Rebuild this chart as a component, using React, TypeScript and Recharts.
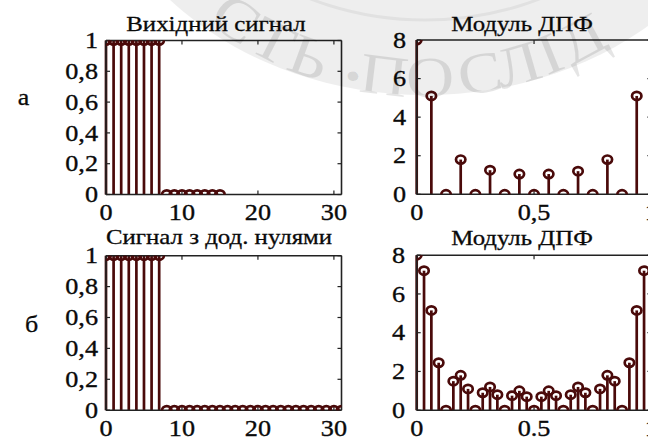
import React from 'react';
import { ComposedChart, Scatter, ErrorBar, XAxis, YAxis } from 'recharts';

// ---- data ----
const sampleIdx16 = [0, 1, 2, 3, 4, 5, 6, 7, 8, 9, 10, 11, 12, 13, 14, 15];
const signal16 = [1, 1, 1, 1, 1, 1, 1, 1, 0, 0, 0, 0, 0, 0, 0, 0];

const sampleIdx32 = [
  0, 1, 2, 3, 4, 5, 6, 7, 8, 9, 10, 11, 12, 13, 14, 15,
  16, 17, 18, 19, 20, 21, 22, 23, 24, 25, 26, 27, 28, 29, 30, 31,
];
const signal32 = [
  1, 1, 1, 1, 1, 1, 1, 1, 0, 0, 0, 0, 0, 0, 0, 0,
  0, 0, 0, 0, 0, 0, 0, 0, 0, 0, 0, 0, 0, 0, 0, 0,
];

const freq16 = [
  0, 0.0625, 0.125, 0.1875, 0.25, 0.3125, 0.375, 0.4375,
  0.5, 0.5625, 0.625, 0.6875, 0.75, 0.8125, 0.875, 0.9375,
];
const dftMag16 = [8, 5.1, 0, 1.8, 0, 1.25, 0, 1.05, 0, 1.05, 0, 1.2, 0, 1.8, 0, 5.1];

const freq32 = [
  0, 0.03125, 0.0625, 0.09375, 0.125, 0.15625, 0.1875, 0.21875,
  0.25, 0.28125, 0.3125, 0.34375, 0.375, 0.40625, 0.4375, 0.46875,
  0.5, 0.53125, 0.5625, 0.59375, 0.625, 0.65625, 0.6875, 0.71875,
  0.75, 0.78125, 0.8125, 0.84375, 0.875, 0.90625, 0.9375, 0.96875,
];
const dftMag32 = [
  8, 7.2, 5.15, 2.45, 0, 1.5, 1.8, 1.1, 0, 0.9, 1.2, 0.8, 0, 0.75, 1.0, 0.7,
  0, 0.7, 1.0, 0.75, 0, 0.8, 1.2, 0.9, 0, 1.1, 1.8, 1.5, 0, 2.45, 5.15, 7.2,
];

// ---- ticks ----
const sampleTicks = [0, 10, 20, 30];
const sampleTickLabels = ['0', '10', '20', '30'];
const ampTicks = [0, 0.2, 0.4, 0.6, 0.8, 1];
const ampTickLabels = ['0', '0,2', '0,4', '0,6', '0,8', '1'];
const magTicks = [0, 2, 4, 6, 8];
const magTickLabels = ['0', '2', '4', '6', '8'];
const freqTicks = [0, 0.5, 1];
const freqTickLabelsComma = ['0', '0,5', '1'];
const freqTickLabelsDot = ['0', '0.5', '1'];

// ---- style ----
const STEM = '#4a0a0a';
const AXIS = '#222';
const INK = '#0a0a0a';
const FONT = '"Liberation Serif", "Times New Roman", serif';
const TICK_SX = 1.14;
const TICK_FS = 23;
const TITLE_SX = 1.13;

const StemHead = (p: any) => (
  <ellipse cx={p.cx} cy={p.cy} rx={4.7} ry={4.1} fill="none" stroke={STEM} strokeWidth={2.7} />
);

const NoLabel = () => <g />;

const makeXTick = (ticks: number[], labels: string[]) => (p: any) => {
  const i = ticks.indexOf(p.payload.value);
  return (
    <text
      transform={`translate(${p.x},${p.y}) scale(${TICK_SX},1)`}
      dy={7.6}
      textAnchor="middle"
      fontFamily={FONT}
      fontSize={TICK_FS}
      fill={INK}
      stroke={INK}
      strokeWidth={0.35}
    >
      {labels[i]}
    </text>
  );
};

const makeYTick = (ticks: number[], labels: string[]) => (p: any) => {
  const i = ticks.indexOf(p.payload.value);
  return (
    <text
      transform={`translate(${p.x},${p.y}) scale(${TICK_SX},1)`}
      dy={7.6}
      textAnchor="end"
      fontFamily={FONT}
      fontSize={TICK_FS}
      fill={INK}
      stroke={INK}
      strokeWidth={0.35}
    >
      {labels[i]}
    </text>
  );
};

type StemProps = {
  left: number;
  top: number;
  wl: number;
  plotW: number;
  wr: number;
  ht: number;
  plotH: number;
  hb: number;
  xs: number[];
  ys: number[];
  xDomain: [number, number];
  xTicks: number[];
  xLabels: string[];
  yDomain: [number, number];
  yTicks: number[];
  yLabels: string[];
  yGap: number;
};

function StemPlot(props: StemProps) {
  const { left, top, wl, plotW, wr, ht, plotH, hb, xs, ys, xDomain, xTicks, xLabels, yDomain, yTicks, yLabels, yGap } = props;
  const data = xs.map((x, i) => ({ x, y: ys[i], stem: [ys[i], 0] }));
  const W = wl + plotW + wr;
  const H = ht + plotH + hb;
  const axisLine = { stroke: AXIS, strokeWidth: 1.6 };
  const tickLine = { stroke: AXIS, strokeWidth: 1.2 };
  return (
    <div style={{ position: 'absolute', left, top, width: W, height: H }}>
      <ComposedChart width={W} height={H} data={data} margin={{ top: 0, right: 0, bottom: 0, left: 0 }}>
        <XAxis
          xAxisId="b"
          orientation="bottom"
          type="number"
          dataKey="x"
          domain={xDomain}
          ticks={xTicks}
          allowDataOverflow
          interval={0}
          height={hb}
          tickSize={-4}
          tickMargin={22}
          axisLine={axisLine}
          tickLine={tickLine}
          tick={makeXTick(xTicks, xLabels)}
        />
        <XAxis
          xAxisId="t"
          orientation="top"
          type="number"
          dataKey="x"
          domain={xDomain}
          ticks={xTicks}
          allowDataOverflow
          interval={0}
          height={ht}
          tickSize={-4}
          axisLine={axisLine}
          tickLine={tickLine}
          tick={NoLabel}
        />
        <YAxis
          yAxisId="l"
          orientation="left"
          type="number"
          domain={yDomain}
          ticks={yTicks}
          allowDataOverflow
          interval={0}
          width={wl}
          tickSize={-4}
          tickMargin={yGap + 4}
          axisLine={axisLine}
          tickLine={tickLine}
          tick={makeYTick(yTicks, yLabels)}
        />
        <YAxis
          yAxisId="r"
          orientation="right"
          type="number"
          domain={yDomain}
          ticks={yTicks}
          allowDataOverflow
          interval={0}
          width={wr}
          tickSize={-4}
          axisLine={axisLine}
          tickLine={tickLine}
          tick={NoLabel}
        />
        <Scatter xAxisId="b" yAxisId="l" dataKey="y" shape={StemHead} isAnimationActive={false}>
          <ErrorBar dataKey="stem" direction="y" width={0} stroke={STEM} strokeWidth={2.7} isAnimationActive={false} />
        </Scatter>
      </ComposedChart>
    </div>
  );
}

function Caption({ x, y, text, size }: { x: number; y: number; text: string; size: number }) {
  return (
    <text
      transform={`translate(${x},${y}) scale(${TITLE_SX},1)`}
      textAnchor="middle"
      fontFamily={FONT}
      fontSize={size}
      fill={INK}
      stroke={INK}
      strokeWidth={0.3}
    >
      {text}
    </text>
  );
}

// faint seal stamped over the sheet
const sealLetters = ['С', 'Т', 'Ь', '•', 'П', 'О', 'С', 'Л', 'І', 'Д'];
const sealLetterX = [236, 273, 309, 354, 384, 430, 480, 518, 550, 582];

function Seal() {
  const cx = 425;
  const cy = -190;
  const rxm = 302;
  const rym = 268;
  return (
    <svg width={648} height={437} style={{ position: 'absolute', left: 0, top: 0, pointerEvents: 'none' }}>
      <ellipse cx={cx} cy={cy} rx={342} ry={285} fill="#000" fillOpacity={0.065} />
      <ellipse cx={cx} cy={cy} rx={262} ry={210} fill="none" stroke="#000" strokeOpacity={0.05} strokeWidth={3} />
      {sealLetters.map((ch, i) => {
        const t = Math.acos((sealLetterX[i] - cx) / rxm);
        const px = cx + rxm * Math.cos(t);
        const py = cy + rym * Math.sin(t);
        const ang = (Math.atan2(-rym * Math.cos(t), rxm * Math.sin(t)) * 180) / Math.PI;
        return (
          <text
            key={i}
            transform={`translate(${px},${py}) rotate(${ang}) scale(1.15,1)`}
            textAnchor="middle"
            dy={19}
            fontFamily={FONT}
            fontSize={ch === '•' ? 40 : 58}
            fill="#000"
            fillOpacity={0.1}
          >
            {ch}
          </text>
        );
      })}
    </svg>
  );
}

export default function App() {
  return (
    <div style={{ position: 'absolute', left: 0, top: 0, width: 648, height: 437, overflow: 'hidden', background: '#fff' }}>
      <StemPlot
        left={0} top={0} wl={106} plotW={235.5} wr={6} ht={40.5} plotH={154} hb={30}
        xs={sampleIdx16} ys={signal16} xDomain={[0, 31]} xTicks={sampleTicks} xLabels={sampleTickLabels}
        yDomain={[0, 1]} yTicks={ampTicks} yLabels={ampTickLabels} yGap={8}
      />
      <StemPlot
        left={346} top={0} wl={70.7} plotW={234.7} wr={6} ht={40} plotH={154.3} hb={30}
        xs={freq16} ys={dftMag16} xDomain={[0, 1]} xTicks={freqTicks} xLabels={freqTickLabelsComma}
        yDomain={[0, 8]} yTicks={magTicks} yLabels={magTickLabels} yGap={10.5}
      />
      <StemPlot
        left={0} top={224.5} wl={106} plotW={235.5} wr={6} ht={30.7} plotH={154.5} hb={27.3}
        xs={sampleIdx32} ys={signal32} xDomain={[0, 31]} xTicks={sampleTicks} xLabels={sampleTickLabels}
        yDomain={[0, 1]} yTicks={ampTicks} yLabels={ampTickLabels} yGap={8}
      />
      <StemPlot
        left={346} top={224.5} wl={70.7} plotW={234.7} wr={6} ht={30.2} plotH={155} hb={27.3}
        xs={freq32} ys={dftMag32} xDomain={[0, 1]} xTicks={freqTicks} xLabels={freqTickLabelsDot}
        yDomain={[0, 8]} yTicks={magTicks} yLabels={magTickLabels} yGap={11.5}
      />
      <svg width={648} height={437} style={{ position: 'absolute', left: 0, top: 0, pointerEvents: 'none' }}>
        <Caption x={216} y={30.7} text="Вихідний сигнал" size={22} />
        <Caption x={522} y={30.7} text="Модуль ДПФ" size={22} />
        <Caption x={219} y={244} text="Сигнал з дод. нулями" size={22} />
        <Caption x={522} y={244.5} text="Модуль ДПФ" size={22} />
        <Caption x={23.5} y={105} text="а" size={23} />
        <Caption x={31.5} y={332} text="б" size={23} />
      </svg>
      <Seal />
    </div>
  );
}
